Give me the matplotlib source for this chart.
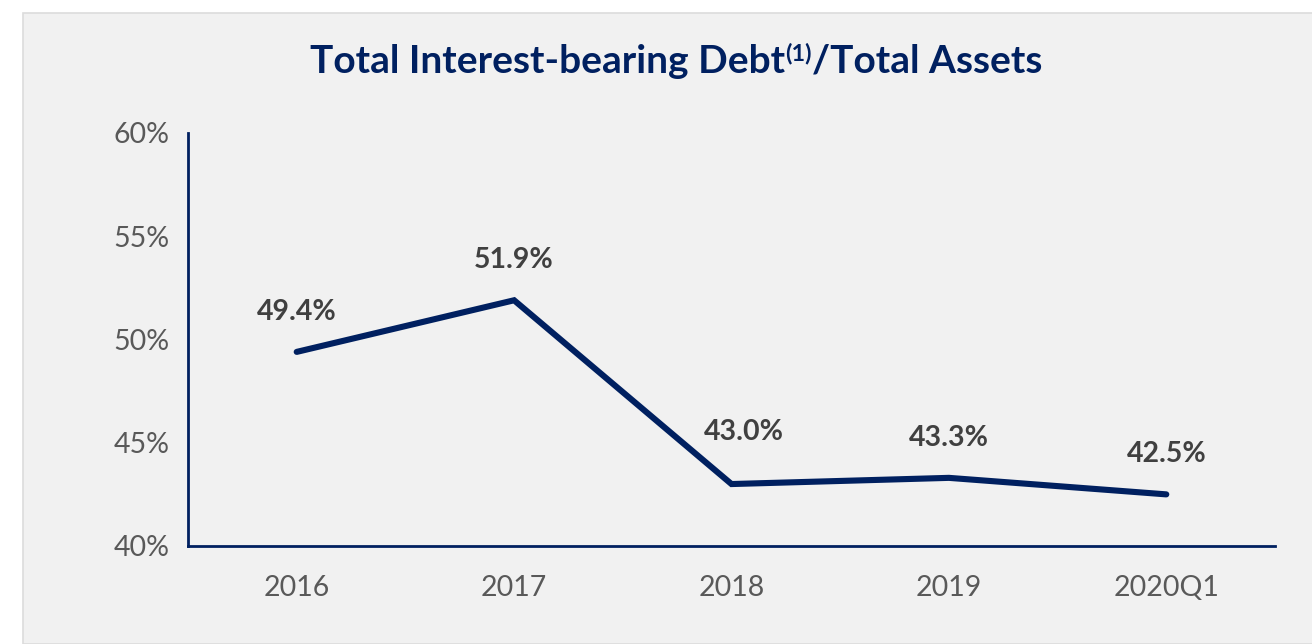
import matplotlib
matplotlib.use("Agg")
import matplotlib.pyplot as plt
from matplotlib.patches import Rectangle
from matplotlib.ticker import FuncFormatter, MultipleLocator

categories = ["2016", "2017", "2018", "2019", "2020Q1"]
values = [49.4, 51.9, 43.0, 43.3, 42.5]
value_labels = ["49.4%", "51.9%", "43.0%", "43.3%", "42.5%"]
title_main = "Total Interest-bearing Debt"
title_sup = "(1)"
title_tail = "/Total Assets"

NAVY = "#002060"
GRAY = "#595959"
LABEL = "#404040"
FONT = ["Lato", "DejaVu Sans"]

W, H = 1312, 644
fig = plt.figure(figsize=(W / 100, H / 100), dpi=100)
fig.patch.set_facecolor("white")

# panel
fig.patches.append(Rectangle((23 / W, 0), 1 - 23 / W + 0.01, 1 - 13 / H, transform=fig.transFigure,
                             facecolor="#f1f1f1", edgecolor="#dcdcdc", linewidth=1.2, zorder=-5))

ax = fig.add_axes([188 / W, (H - 546) / H, (1275 - 188) / W, (546 - 133) / H])
ax.set_zorder(2)
ax.set_facecolor("none")
x = list(range(len(categories)))
ax.plot(x, values, color=NAVY, linewidth=4.4, solid_capstyle="round", solid_joinstyle="miter", zorder=3)
ax.set_xlim(-0.5, len(categories) - 0.5)
ax.set_ylim(40, 60)
ax.yaxis.set_major_locator(MultipleLocator(5))
ax.yaxis.set_major_formatter(FuncFormatter(lambda v, p: f"{v:.0f}%"))
ax.set_xticks(x)
ax.set_xticklabels(categories)
for s in ["top", "right"]:
    ax.spines[s].set_visible(False)
for s in ["left", "bottom"]:
    ax.spines[s].set_color(NAVY)
    ax.spines[s].set_linewidth(2)
ax.tick_params(axis="both", length=0, labelsize=20.5, labelcolor=GRAY)
ax.tick_params(axis="x", pad=21)
ax.tick_params(axis="y", pad=13)
for lab in ax.get_xticklabels() + ax.get_yticklabels():
    lab.set_family(FONT)

for i, (xi, v, t) in enumerate(zip(x, values, value_labels)):
    # Excel nudged the 2018 label up and right
    off = (8.6, 37.5) if categories[i] == "2018" else (0, 29)
    ax.annotate(t, (xi, v), xytext=off, textcoords="offset points", ha="center", va="center",
                fontsize=20.5, fontweight="bold", color=LABEL, family=FONT)

# title with superscript
fig.canvas.draw()
r = fig.canvas.get_renderer()
tsize = 28
t1 = fig.text(0, 0, title_main, fontsize=tsize, fontweight="bold", color=NAVY, family=FONT, va="baseline")
t2 = fig.text(0, 0, title_sup, fontsize=tsize * 0.6, fontweight="bold", color=NAVY, family=FONT, va="baseline")
t3 = fig.text(0, 0, title_tail, fontsize=tsize, fontweight="bold", color=NAVY, family=FONT, va="baseline")
w1 = t1.get_window_extent(r).width
w2 = t2.get_window_extent(r).width
w3 = t3.get_window_extent(r).width
total = w1 + w2 + w3
cx = 676
base = H - 73
x0 = cx - total / 2
t1.set_position((x0 / W, base / H))
t2.set_position(((x0 + w1) / W, (base + 13) / H))
t3.set_position(((x0 + w1 + w2) / W, base / H))

fig.savefig("out.png", dpi=100, facecolor=fig.get_facecolor())
